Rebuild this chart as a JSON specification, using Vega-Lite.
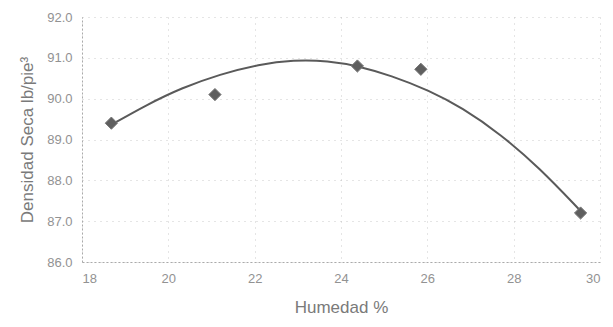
{
  "$schema": "https://vega.github.io/schema/vega-lite/v6.json",
  "width": 518,
  "height": 245,
  "autosize": {"type": "none"},
  "padding": {"left": 82, "top": 17, "right": 13, "bottom": 65},
  "background": "white",
  "config": {
    "view": {"stroke": null},
    "font": "Liberation Sans",
    "axis": {
      "labelColor": "#929292",
      "titleColor": "#7a7a7a",
      "labelFontSize": 13,
      "titleFontSize": 17,
      "titleFontWeight": "normal",
      "ticks": false,
      "domainColor": "#aaaaaa",
      "domainDash": [2, 2],
      "gridColor": "#b5b5b5",
      "gridDash": [1, 5],
      "gridOpacity": 0.7
    }
  },
  "datasets": {
    "ensayos": [
      {"humedad": 18.68, "densidad": 89.4},
      {"humedad": 21.08, "densidad": 90.1},
      {"humedad": 24.38, "densidad": 90.8},
      {"humedad": 25.85, "densidad": 90.72},
      {"humedad": 29.55, "densidad": 87.2}
    ],
    "tendencia": [
      {"humedad": 18.68, "densidad": 89.36},
      {"humedad": 19.5, "densidad": 89.85},
      {"humedad": 20.3, "densidad": 90.26},
      {"humedad": 21.2, "densidad": 90.6},
      {"humedad": 22.1, "densidad": 90.84},
      {"humedad": 22.9, "densidad": 90.95},
      {"humedad": 23.7, "densidad": 90.93},
      {"humedad": 24.4, "densidad": 90.8},
      {"humedad": 25.15, "densidad": 90.57},
      {"humedad": 26.05, "densidad": 90.2},
      {"humedad": 26.8, "densidad": 89.78},
      {"humedad": 27.7, "densidad": 89.13},
      {"humedad": 28.6, "densidad": 88.3},
      {"humedad": 29.55, "densidad": 87.25}
    ]
  },
  "layer": [
    {
      "data": {"name": "tendencia"},
      "mark": {"type": "line", "color": "#5a5a5a", "strokeWidth": 2, "interpolate": "basis"},
      "encoding": {
        "x": {"field": "humedad", "type": "quantitative", "axis": {"format": "d"}},
        "y": {"field": "densidad", "type": "quantitative", "axis": {"format": ".1f"}}
      }
    },
    {
      "data": {"name": "ensayos"},
      "mark": {"type": "point", "shape": "diamond", "filled": true, "color": "#5f5f5f", "size": 150, "opacity": 1, "stroke": "#777777", "strokeWidth": 1},
      "encoding": {
        "x": {
          "field": "humedad", "type": "quantitative",
          "scale": {"domain": [18, 30], "nice": false},
          "axis": {"values": [18, 20, 22, 24, 26, 28, 30], "format": "d", "title": "Humedad %", "labelPadding": 10, "titlePadding": 14, "grid": true}
        },
        "y": {
          "field": "densidad", "type": "quantitative",
          "scale": {"domain": [86, 92], "nice": false, "zero": false},
          "axis": {"values": [86, 87, 88, 89, 90, 91, 92], "format": ".1f", "title": "Densidad Seca lb/pie³", "labelPadding": 10, "titlePadding": 10, "grid": true}
        }
      }
    }
  ]
}
